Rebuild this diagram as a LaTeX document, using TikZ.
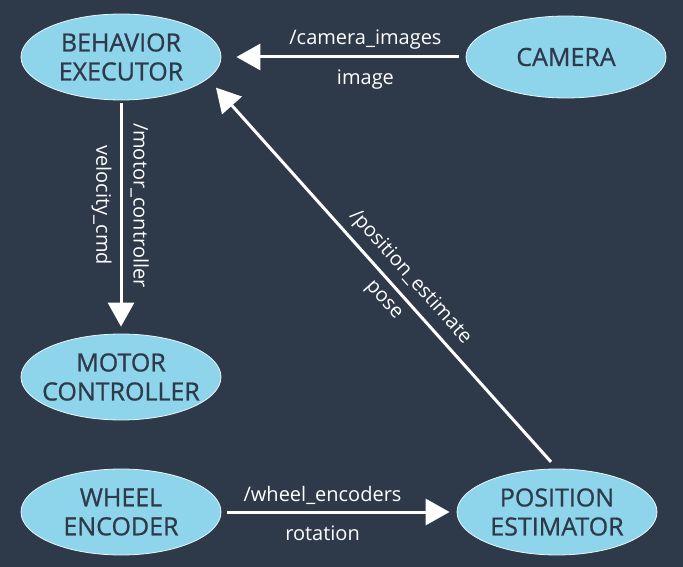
\documentclass[tikz,border=0pt]{standalone}
\usepackage{fontspec}
\setmainfont{Open Sans}
\newfontfamily\topicfont{Open Sans}[FakeBold=0.8]
\usetikzlibrary{arrows.meta,shapes.geometric}
\definecolor{bgdark}{RGB}{46,58,73}
\definecolor{nodeblue}{RGB}{142,213,236}
\begin{document}
\begin{tikzpicture}[x=1pt,y=-1pt,
	topic/.style={draw=white!80!nodeblue, line width=0.8pt, fill=nodeblue, ellipse,
		minimum width=200pt, minimum height=86pt, inner xsep=-12pt, inner ysep=0pt,
		align=center, text=bgdark, font=\topicfont\fontsize{25}{29}\selectfont},
	msg/.style={white, line width=3pt, -{Triangle[length=24pt,width=26pt]}},
	lbl/.style={text=white, font=\fontsize{20}{24}\selectfont, inner sep=2pt}]
	\fill [bgdark] (0,0) rectangle (683,567);
	\useasboundingbox (0,0) rectangle (683,567);
	% nodes
	\node [topic] (behex) at (121,57) {BEHAVIOR\\EXECUTOR};
	\node [topic, minimum height=82pt] (camera) at (566,57) {CAMERA};
	\node [topic] (motorc) at (121,377) {MOTOR\\CONTROLLER};
	\node [topic] (wheelenc) at (121,512) {WHEEL\\ENCODER};
	\node [topic] (posest) at (557,512) {POSITION\\ESTIMATOR};
	% topics
	\draw [msg, shorten <=7pt, shorten >=15pt] (camera) --
		node [lbl, pos=0.41, above=4pt] {/camera\_images}
		node [lbl, pos=0.41, below=9pt] {image} (behex);
	\draw [msg, shorten <=3pt, shorten >=7pt] (behex) --
		node [lbl, sloped, pos=0.45, above=6pt] {/motor\_controller}
		node [lbl, sloped, pos=0.45, below=6pt] {velocity\_cmd} (motorc);
	\draw [msg, shorten <=9pt, shorten >=12pt] (posest.north) --
		node [lbl, sloped, pos=0.46, above=5pt] {/position\_estimate}
		node [lbl, sloped, pos=0.46, below=7pt] {pose} (behex.-14);
	\draw [msg, shorten <=6pt, shorten >=7pt] (wheelenc) --
		node [lbl, pos=0.43, above=4pt] {/wheel\_encoders}
		node [lbl, pos=0.43, below=10pt] {rotation} (posest);
\end{tikzpicture}
\end{document}
